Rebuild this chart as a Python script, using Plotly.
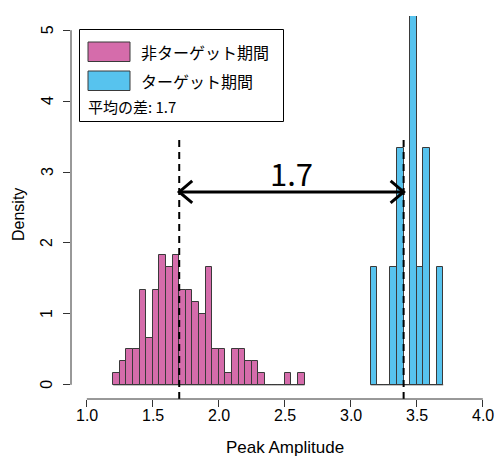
import plotly.graph_objects as go

# ---- data ----
bin_width = 0.05
nontarget_bin_start = [round(1.20 + 0.05 * i, 2) for i in range(29)]
nontarget_density = [0.167, 0.333, 0.5, 0.5, 1.333, 0.667, 1.333, 1.833, 1.667, 1.833,
                     1.333, 1.333, 1.167, 1.0, 1.667, 0.5, 0.5, 0.167, 0.5, 0.5,
                     0.333, 0.333, 0.167, 0.0, 0.0, 0.0, 0.167, 0.0, 0.167]
target_bin_start = [round(3.15 + 0.05 * i, 2) for i in range(11)]
target_density = [1.667, 0.0, 0.0, 1.667, 3.333, 0.0, 6.667, 1.667, 3.333, 0.0, 1.667]

mean_nontarget = 1.7
mean_target = 3.4
diff = mean_target - mean_nontarget
marker_top = 3.5
arrow_y = 2.72

x_ticks = [1.0, 1.5, 2.0, 2.5, 3.0, 3.5, 4.0]
x_tick_labels = ["1.0", "1.5", "2.0", "2.5", "3.0", "3.5", "4.0"]
y_ticks = [0, 1, 2, 3, 4, 5]
y_tick_labels = ["0", "1", "2", "3", "4", "5"]

label_nontarget = "非ターゲット期間"
label_target = "ターゲット期間"
label_diff = f"平均の差: {diff:.1f}"

# ---- style ----
PINK = "#D56CAB"
BLUE = "#57C3EE"
EDGE = "#3a3a3a"
W, H = 498, 457
ML, MR, MT, MB = 71, 0, 16, 58
XR = [0.88, 4.115]
YR = [-0.2, 5.2]
pw, ph = W - ML - MR, H - MT - MB
px_per_x = pw / (XR[1] - XR[0])
px_per_y = ph / (YR[1] - YR[0])

def px(x):  # pixel -> paper x
    return (x - ML) / pw

def py(y):  # pixel -> paper y
    return (H - MB - y) / ph

fig = go.Figure()
fig.add_trace(go.Bar(x=nontarget_bin_start, y=nontarget_density, width=bin_width, offset=0,
                     marker=dict(color=PINK, line=dict(color=EDGE, width=1)),
                     showlegend=False, hoverinfo="skip"))
fig.add_trace(go.Bar(x=target_bin_start, y=target_density, width=bin_width, offset=0,
                     marker=dict(color=BLUE, line=dict(color=EDGE, width=1)),
                     showlegend=False, hoverinfo="skip"))

shapes = []
for starts in (nontarget_bin_start, target_bin_start):
    shapes.append(dict(type="line", xref="x", yref="y", x0=starts[0], x1=starts[-1] + bin_width,
                       y0=0, y1=0, line=dict(color=EDGE, width=1), layer="above"))
for m in (mean_nontarget, mean_target):
    shapes.append(dict(type="line", xref="x", yref="y", x0=m, x1=m, y0=YR[0], y1=marker_top,
                       line=dict(color="black", width=2, dash="7px,5px")))
shapes.append(dict(type="line", xref="x", yref="y", x0=mean_nontarget, x1=mean_target,
                   y0=arrow_y, y1=arrow_y, line=dict(color="black", width=3)))
hx, hy = 13 / px_per_x, 11 / px_per_y
for tip, sgn in ((mean_nontarget, 1), (mean_target, -1)):
    shapes.append(dict(type="path", xref="x", yref="y",
                       path=f"M {tip + sgn * hx},{arrow_y + hy} L {tip},{arrow_y} L {tip + sgn * hx},{arrow_y - hy}",
                       line=dict(color="black", width=3)))
shapes.append(dict(type="line", xref="x", yref="paper", x0=x_ticks[0], x1=x_ticks[-1], y0=0, y1=0,
                   line=dict(color="#333", width=1)))
shapes.append(dict(type="line", xref="paper", yref="y", x0=0, x1=0, y0=y_ticks[0], y1=y_ticks[-1],
                   line=dict(color="#333", width=1)))
shapes.append(dict(type="rect", xref="paper", yref="paper", x0=px(79.5), x1=px(283.5),
                   y0=py(121.5), y1=py(29.5), line=dict(color="black", width=1), fillcolor="white"))
shapes.append(dict(type="rect", xref="paper", yref="paper", x0=px(88), x1=px(130),
                   y0=py(61.5), y1=py(42), line=dict(color=EDGE, width=1), fillcolor=PINK))
shapes.append(dict(type="rect", xref="paper", yref="paper", x0=px(88), x1=px(130),
                   y0=py(90.5), y1=py(71), line=dict(color=EDGE, width=1), fillcolor=BLUE))

CJK = "Noto Sans CJK JP"
SANS = "Liberation Sans"
annotations = [
    dict(text=label_nontarget, xref="paper", yref="paper", x=px(139), y=py(52), xanchor="left",
         yanchor="middle", showarrow=False, font=dict(family=CJK, size=16, color="black")),
    dict(text=label_target, xref="paper", yref="paper", x=px(139), y=py(81), xanchor="left",
         yanchor="middle", showarrow=False, font=dict(family=CJK, size=16, color="black")),
    dict(text=label_diff, xref="paper", yref="paper", x=px(86), y=py(107), xanchor="left",
         yanchor="middle", showarrow=False, font=dict(family=CJK, size=15, color="black")),
    dict(text=f"{diff:.1f}", xref="x", yref="y", x=(mean_nontarget + mean_target) / 2, y=arrow_y,
         yshift=19, xanchor="center", yanchor="middle", showarrow=False,
         font=dict(family=CJK, size=31, color="black")),
    dict(text="Peak Amplitude", xref="paper", yref="paper", x=px(285), y=py(447),
         xanchor="center", yanchor="middle", showarrow=False,
         font=dict(family=SANS, size=17, color="black")),
    dict(text="Density", xref="paper", yref="paper", x=px(18), y=py(215), textangle=-90,
         xanchor="center", yanchor="middle", showarrow=False,
         font=dict(family=SANS, size=16, color="black")),
]
for v, lab in zip(x_ticks, x_tick_labels):
    annotations.append(dict(text=lab, xref="x", yref="paper", x=v, y=py(415), xanchor="center",
                            yanchor="middle", showarrow=False, font=dict(family=SANS, size=16, color="black")))
for v, lab in zip(y_ticks, y_tick_labels):
    annotations.append(dict(text=lab, xref="paper", yref="y", x=px(47), y=v, textangle=-90,
                            xanchor="center", yanchor="middle", showarrow=False,
                            font=dict(family=SANS, size=16, color="black")))

fig.update_layout(
    width=W, height=H, margin=dict(l=ML, r=MR, t=MT, b=MB, pad=0),
    plot_bgcolor="white", paper_bgcolor="white",
    shapes=shapes, annotations=annotations, bargap=0,
    font=dict(family=SANS, color="black"),
    xaxis=dict(range=XR, tickvals=x_ticks, ticks="outside", ticklen=7, showticklabels=False,
               tickcolor="#333", showgrid=False, zeroline=False, showline=False, automargin=False),
    yaxis=dict(range=YR, tickvals=y_ticks, ticks="outside", ticklen=7, tickcolor="#333",
               showticklabels=False, showgrid=False, zeroline=False, showline=False,
               automargin=False),
)

fig.write_html("out.html", config={"displayModeBar": False},
               post_script="document.body.style.margin='0';document.body.style.overflow='hidden';")
